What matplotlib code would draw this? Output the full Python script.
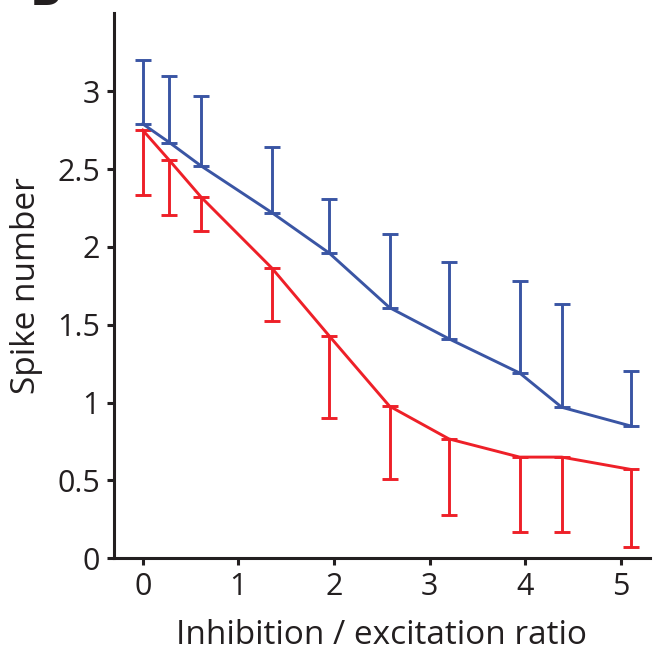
import numpy as np
import matplotlib
matplotlib.use("Agg")
import matplotlib.pyplot as plt

plt.rcParams['font.family'] = ['Open Sans', 'DejaVu Sans']

# inhibition / excitation ratio
ratio = [0.0, 0.28, 0.61, 1.35, 1.95, 2.58, 3.20, 3.94, 4.38, 5.10]

# blue series: mean and upward error
blue_mean = [2.79, 2.67, 2.52, 2.22, 1.96, 1.61, 1.41, 1.19, 0.97, 0.85]
blue_err = [0.41, 0.43, 0.45, 0.42, 0.35, 0.47, 0.49, 0.59, 0.66, 0.35]

# red series: mean and downward error
red_mean = [2.75, 2.555, 2.32, 1.864, 1.428, 0.977, 0.767, 0.65, 0.65, 0.571]
red_err = [0.42, 0.35, 0.22, 0.34, 0.53, 0.47, 0.49, 0.48, 0.48, 0.50]

blue_c = '#3a55a4'
red_c = '#ee2028'

fig = plt.figure(figsize=(6.57, 6.55), dpi=100)
ax = fig.add_axes([0.1735, 0.1476, 0.8155, 0.8321])

zeros = [0] * len(ratio)
ax.errorbar(ratio, blue_mean, yerr=[zeros, blue_err], color=blue_c,
            lw=2.1, elinewidth=2.1, capsize=5.5, capthick=2.1)
ax.errorbar(ratio, red_mean, yerr=[red_err, zeros], color=red_c,
            lw=2.1, elinewidth=2.1, capsize=5.5, capthick=2.1)

ax.set_xlim(-0.30, 5.30)
ax.set_ylim(0, 3.5)
ax.set_xticks([0, 1, 2, 3, 4, 5])
ax.set_yticks([0, 0.5, 1, 1.5, 2, 2.5, 3])
ax.set_yticklabels(['0', '0.5', '1', '1.5', '2', '2.5', '3'])

for s in ['top', 'right']:
    ax.spines[s].set_visible(False)
for s in ['left', 'bottom']:
    ax.spines[s].set_linewidth(2.2)
    ax.spines[s].set_color('#231f20')

ax.tick_params(direction='out', length=5, width=2.2, colors='#231f20',
               labelsize=22, pad=5)
ax.set_xlabel('Inhibition / excitation ratio', fontsize=24, color='#231f20',
              labelpad=12)
ax.set_ylabel('Spike number', fontsize=24, color='#231f20', labelpad=10)

fig.text(0.045, 1.012, 'B', fontsize=34, fontweight='bold', va='center',
         ha='left', color='#231f20')

fig.savefig('out.png', dpi=100)
